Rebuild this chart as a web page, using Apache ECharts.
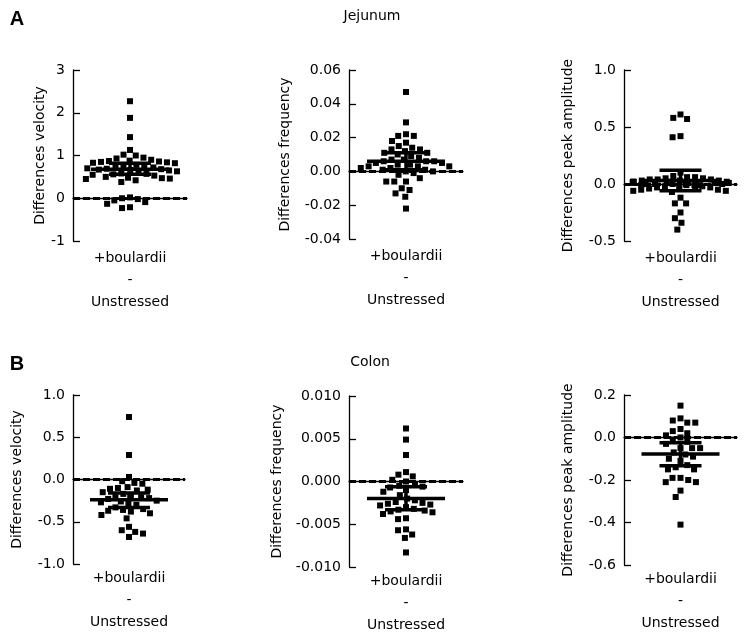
<!DOCTYPE html>
<html><head><meta charset="utf-8">
<script src="https://cdn.jsdelivr.net/npm/echarts@6/dist/echarts.min.js"></script>
<style>html,body{margin:0;padding:0;background:#fff}#c{width:749px;height:639px}</style>
</head><body><div id="c"></div><script>
// ---------- data ----------
const groupLabel = ['+boulardii', '-', 'Unstressed'];
const sectionTitles = ['Jejunum', 'Colon'];
const sectionLetters = ['A', 'B'];
const yNames = ['Differences velocity', 'Differences frequency', 'Differences peak amplitude'];

const jejVelocity = [2.27, 1.88, 1.43, 1.13, 1.02, 1.00, 0.95, 0.93, 0.90, 0.88, 0.87, 0.86, 0.85, 0.84, 0.83, 0.82, 0.78, 0.76, 0.75, 0.74, 0.72, 0.70, 0.69, 0.68, 0.67, 0.66, 0.65, 0.63, 0.60, 0.58, 0.57, 0.56, 0.55, 0.53, 0.50, 0.48, 0.47, 0.46, 0.45, 0.42, 0.38, 0.02, 0.00, -0.02, -0.05, -0.09, -0.13, -0.21, -0.23];
const jejFrequency = [0.047, 0.029, 0.022, 0.021, 0.021, 0.018, 0.017, 0.015, 0.014, 0.013, 0.013, 0.012, 0.011, 0.011, 0.010, 0.009, 0.008, 0.007, 0.007, 0.006, 0.006, 0.006, 0.005, 0.005, 0.004, 0.004, 0.003, 0.003, 0.003, 0.002, 0.002, 0.001, 0.001, 0.000, 0.000, -0.001, -0.002, -0.004, -0.006, -0.006, -0.006, -0.010, -0.011, -0.013, -0.015, -0.022];
const jejAmplitude = [0.61, 0.58, 0.57, 0.42, 0.41, 0.10, 0.07, 0.06, 0.06, 0.05, 0.05, 0.04, 0.04, 0.04, 0.03, 0.03, 0.03, 0.02, 0.02, 0.02, 0.02, 0.01, 0.01, 0.01, 0.01, 0.00, 0.00, 0.00, 0.00, 0.00, 0.00, -0.01, -0.01, -0.01, -0.01, -0.02, -0.02, -0.02, -0.03, -0.03, -0.04, -0.04, -0.05, -0.05, -0.06, -0.06, -0.07, -0.12, -0.17, -0.17, -0.25, -0.30, -0.34, -0.40];
const colVelocity = [0.74, 0.29, 0.03, -0.02, -0.04, -0.05, -0.09, -0.10, -0.11, -0.12, -0.13, -0.15, -0.17, -0.19, -0.20, -0.21, -0.22, -0.23, -0.25, -0.26, -0.27, -0.29, -0.30, -0.33, -0.35, -0.36, -0.37, -0.38, -0.40, -0.42, -0.46, -0.56, -0.60, -0.62, -0.64, -0.68];
const colFrequency = [0.0062, 0.0049, 0.0031, 0.0011, 0.0008, 0.0006, 0.0002, 0.0000, -0.0003, -0.0005, -0.0006, -0.0007, -0.0010, -0.0012, -0.0016, -0.0020, -0.0022, -0.0024, -0.0025, -0.0026, -0.0027, -0.0028, -0.0030, -0.0032, -0.0033, -0.0034, -0.0035, -0.0036, -0.0038, -0.0043, -0.0044, -0.0056, -0.0057, -0.0062, -0.0066, -0.0083];
const colAmplitude = [0.15, 0.09, 0.08, 0.07, 0.07, 0.04, 0.03, 0.02, 0.01, 0.00, -0.01, -0.02, -0.03, -0.05, -0.05, -0.05, -0.07, -0.08, -0.09, -0.10, -0.11, -0.13, -0.14, -0.15, -0.15, -0.19, -0.19, -0.20, -0.21, -0.21, -0.25, -0.28, -0.41];

// mean, lower bar, upper bar
const jejVelocityStats = [0.68, 0.56, 0.82];
const jejFrequencyStats = [0.006, 0.001, 0.011];
const jejAmplitudeStats = [0.03, -0.06, 0.12];
const colVelocityStats = [-0.24, -0.33, -0.16];
const colFrequencyStats = [-0.0020, -0.0033, -0.0006];
const colAmplitudeStats = [-0.078, -0.133, -0.025];

// y tick labels
const ticksJejVelocity = [-1, 0, 1, 2, 3];
const ticksJejFrequency = [-0.04, -0.02, 0.00, 0.02, 0.04, 0.06];
const ticksJejAmplitude = [-0.5, 0.0, 0.5, 1.0];
const ticksColVelocity = [-1.0, -0.5, 0.0, 0.5, 1.0];
const ticksColFrequency = [-0.010, -0.005, 0.000, 0.005, 0.010];
const ticksColAmplitude = [-0.6, -0.4, -0.2, 0.0, 0.2];

// ---------- layout ----------
const panels = [
  {vals: jejVelocity, stats: jejVelocityStats, ticks: ticksJejVelocity, name: yNames[0], dec: 0,
   box: {left: 73, top: 70, width: 114, height: 171}, nameGap: 17, lm: 6},
  {vals: jejFrequency, stats: jejFrequencyStats, ticks: ticksJejFrequency, name: yNames[1], dec: 2,
   box: {left: 349, top: 70, width: 114, height: 169}, nameGap: 57, lm: 6},
  {vals: jejAmplitude, stats: jejAmplitudeStats, ticks: ticksJejAmplitude, name: yNames[2], dec: 1,
   box: {left: 624, top: 70, width: 113, height: 171}, nameGap: 49, lm: 6},
  {vals: colVelocity, stats: colVelocityStats, ticks: ticksColVelocity, name: yNames[0], dec: 1,
   box: {left: 73, top: 395, width: 112, height: 169}, nameGap: 49, lm: 3},
  {vals: colFrequency, stats: colFrequencyStats, ticks: ticksColFrequency, name: yNames[1], dec: 3,
   box: {left: 349, top: 396, width: 114, height: 171}, nameGap: 65, lm: 3},
  {vals: colAmplitude, stats: colAmplitudeStats, ticks: ticksColAmplitude, name: yNames[2], dec: 1,
   box: {left: 624, top: 395, width: 113, height: 170}, nameGap: 49, lm: 3}
];

const FONT = 'DejaVu Sans';
const category = groupLabel.join('\n');
const grid = [], xAxis = [], yAxis = [], series = [];

panels.forEach((p, i) => {
  grid.push(Object.assign({containLabel: false}, p.box));
  xAxis.push({
    type: 'category', gridIndex: i, data: [category],
    jitter: 100, jitterOverlap: false, jitterMargin: 2,
    axisLine: {lineStyle: {color: '#000', width: 1.3}},
    axisTick: {show: false},
    axisLabel: {color: '#000', fontFamily: FONT, fontSize: 14, lineHeight: 22, margin: p.lm, interval: 0}
  });
  const t = p.ticks;
  yAxis.push({
    type: 'value', gridIndex: i,
    min: t[0], max: t[t.length - 1], interval: t[1] - t[0],
    name: p.name, nameLocation: 'middle', nameGap: p.nameGap,
    nameTextStyle: {color: '#000', fontFamily: FONT, fontSize: 14},
    axisLine: {show: true, lineStyle: {color: '#000', width: 1.3}},
    axisTick: {show: true, inside: true, length: 7, lineStyle: {color: '#000', width: 1.3}},
    splitLine: {show: false},
    axisLabel: {color: '#000', fontFamily: FONT, fontSize: 14, margin: 8,
      formatter: v => (Math.abs(v) < 1e-12 ? 0 : v).toFixed(p.dec)}
  });
  series.push({
    type: 'scatter', xAxisIndex: i, yAxisIndex: i, z: 2,
    symbol: 'rect', symbolSize: 6,
    itemStyle: {color: '#000', opacity: 1},
    data: p.vals.map(v => [0, v]),
    markLine: {
      silent: true, symbol: ['none', 'none'], label: {show: false},
      lineStyle: {color: '#000', type: [7, 3], width: 3, opacity: 1},
      data: [{yAxis: 0}], animation: false
    }
  });
  series.push({
    type: 'custom', xAxisIndex: i, yAxisIndex: i, z: 4,
    data: [[0, p.stats[0], p.stats[1], p.stats[2]]],
    encode: {x: 0, y: [1, 2, 3]},
    renderItem: (params, api) => {
      const c = api.coord([api.value(0), api.value(1)]);
      const lo = api.coord([api.value(0), api.value(2)]);
      const hi = api.coord([api.value(0), api.value(3)]);
      const st = {stroke: '#000', lineWidth: 3.5};
      return {type: 'group', children: [
        {type: 'line', shape: {x1: c[0] - 39, y1: c[1], x2: c[0] + 39, y2: c[1]}, style: st},
        {type: 'line', shape: {x1: c[0] - 21, y1: hi[1], x2: c[0] + 21, y2: hi[1]}, style: st},
        {type: 'line', shape: {x1: c[0] - 21, y1: lo[1], x2: c[0] + 21, y2: lo[1]}, style: st},
        {type: 'line', shape: {x1: c[0], y1: hi[1], x2: c[0], y2: lo[1]}, style: st}
      ]};
    }
  });
});

const graphic = [
  {type: 'text', x: 372, y: 16, style: {text: sectionTitles[0], align: 'center', verticalAlign: 'middle', font: '14px "DejaVu Sans"', fill: '#000'}},
  {type: 'text', x: 370, y: 362, style: {text: sectionTitles[1], align: 'center', verticalAlign: 'middle', font: '14px "DejaVu Sans"', fill: '#000'}},
  {type: 'text', x: 17, y: 19, style: {text: sectionLetters[0], align: 'center', verticalAlign: 'middle', font: 'bold 20px "Liberation Sans"', fill: '#000'}},
  {type: 'text', x: 17, y: 364, style: {text: sectionLetters[1], align: 'center', verticalAlign: 'middle', font: 'bold 20px "Liberation Sans"', fill: '#000'}}
];

const chart = echarts.init(document.getElementById('c'), null, {renderer: 'canvas'});
chart.setOption({animation: false, backgroundColor: '#fff', grid, xAxis, yAxis, series, graphic});
</script></body></html>
